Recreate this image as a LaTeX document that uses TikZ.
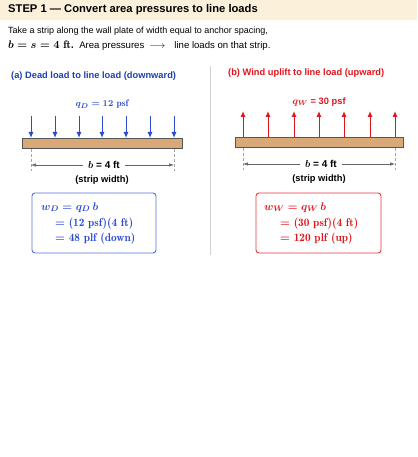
\documentclass[tikz,border=0pt]{standalone}
\usepackage{fontspec}
\setmainfont{Liberation Sans}
\newcommand\lmrf{\fontfamily{lmr}\selectfont}
\usetikzlibrary{arrows.meta}
\definecolor{band}{HTML}{FBF0D9}
\definecolor{dblue}{HTML}{1F3FB0}
\definecolor{ablue}{HTML}{2A4BD0}
\definecolor{dred}{HTML}{E0151B}
\definecolor{wood}{HTML}{D9A877}
\definecolor{woodline}{HTML}{555555}
\tikzset{
  beam/.style={fill=wood,draw=woodline,line width=0.8pt},
  dnarrow/.style={draw=ablue,line width=1pt,-{Latex[length=6pt,width=5pt]}},
  uparrow/.style={draw=dred,line width=1pt,-{Latex[length=6pt,width=5pt]}},
  dimline/.style={draw=gray!80!black,line width=0.6pt,{Latex[length=5pt,width=3.5pt]}-{Latex[length=5pt,width=3.5pt]}},
  extline/.style={draw=gray!70,line width=0.7pt,dash pattern=on 3pt off 2pt},
  txt/.style={inner sep=0pt,font=\fontsize{9}{11}\selectfont},
  ptitle/.style={inner sep=0pt,anchor=west,font=\fontsize{9.3}{11}\selectfont\bfseries},
  lbl/.style={inner sep=0pt,font=\fontsize{9.3}{11}\selectfont\bfseries\boldmath},
  qlbl/.style={inner sep=0pt,font=\lmrf\fontsize{9.5}{11}\selectfont\bfseries\boldmath},
  resbox/.style={rounded corners=3pt,line width=0.9pt,fill=white},
  boxtxt/.style={inner sep=0pt,anchor=base west,font=\lmrf\fontsize{11.3}{13}\selectfont\bfseries\boldmath},
}
\begin{document}
\begin{tikzpicture}[x=1pt,y=-1pt]
\path[use as bounding box] (0,0) rectangle (417,457);
\fill[band] (0,0) rectangle (417,20);
\node[txt,anchor=west,font=\fontsize{11.2}{13}\selectfont\bfseries] (title) at (8,10) {STEP 1 --- Convert area pressures to line loads};
\node[txt,anchor=base west] (l1) at (8,34) {Take a strip along the wall plate of width equal to anchor spacing,};
\node[txt,anchor=base west,font=\fontsize{9.6}{11}\selectfont] (l2) at (8,49) {{\lmrf\bfseries\boldmath\fontsize{11}{12}\selectfont $b = s = 4$ ft.}\ \ Area pressures\hspace{3pt}\makebox[20pt]{$\longrightarrow$}\hspace{7pt}line loads on that strip.};
% divider
\draw[gray!35,line width=0.8pt] (210,66) coordinate (dv1) -- (210,255) coordinate (dv2);
% ---------- Left panel ----------
\node[ptitle,text=dblue] (ta) at (11,76) {(a) Dead load to line load (downward)};
\node[qlbl,text=ablue] (qd) at (102,104) {$q_D = 12$ psf};
\node[beam,minimum width=160pt,minimum height=10pt,inner sep=0pt] (bA) at (102,143) {};
\foreach \i/\x in {1/31,2/55,3/79,4/102,5/126,6/150,7/174}{
  \coordinate (ad\i) at (\x,116);
  \coordinate (bd\i) at (\x,138);
  \draw[dnarrow] (ad\i) -- (bd\i);
}
\coordinate (eA1) at (31,149); \coordinate (eA1b) at (31,171);
\coordinate (eA2) at (174,149); \coordinate (eA2b) at (174,171);
\draw[extline] (eA1) -- (eA1b);
\draw[extline] (eA2) -- (eA2b);
\coordinate (dA1) at (31,165); \coordinate (dA2) at (174,165);
\draw[dimline] (dA1) -- (dA2);
\node[lbl,fill=white,inner xsep=5pt,inner ysep=1pt,font=\fontsize{10}{11}\selectfont\bfseries\boldmath] (bA4) at (104,165) {$b$ = 4 ft};
\node[lbl] (swA) at (102,180) {(strip width)};
\draw[resbox,draw=ablue!80] (32,193) rectangle (156,253);
\node[boxtxt,text=ablue] (wA1) at (41,210) {$w_D = q_D\,b$};
\node[boxtxt,text=ablue] (wA2) at (55,226) {$=$ (12 psf)(4 ft)};
\node[boxtxt,text=ablue] (wA3) at (55,241) {$=$ 48 plf (down)};
% ---------- Right panel ----------
\node[ptitle,text=dred] (tb) at (228,73) {(b) Wind uplift to line load (upward)};
\node[lbl,text=dred] (qw) at (319,102) {{\fontsize{10}{11}\selectfont$q_W$} = 30 psf};
\node[beam,minimum width=168pt,minimum height=10pt,inner sep=0pt] (bB) at (319,142) {};
\foreach \i/\x in {1/243,2/268,3/294,4/319,5/344,6/370,7/395}{
  \coordinate (au\i) at (\x,137);
  \coordinate (bu\i) at (\x,111);
  \draw[uparrow] (au\i) -- (bu\i);
}
\coordinate (eB1) at (243,148); \coordinate (eB1b) at (243,170);
\coordinate (eB2) at (395,148); \coordinate (eB2b) at (395,170);
\draw[extline] (eB1) -- (eB1b);
\draw[extline] (eB2) -- (eB2b);
\coordinate (dB1) at (243,164); \coordinate (dB2) at (395,164);
\draw[dimline] (dB1) -- (dB2);
\node[lbl,fill=white,inner xsep=5pt,inner ysep=1pt,font=\fontsize{10}{11}\selectfont\bfseries\boldmath] (bB4) at (321,164) {$b$ = 4 ft};
\node[lbl] (swB) at (319,179) {(strip width)};
\draw[resbox,draw=dred!85] (256,193) rectangle (381,253);
\node[boxtxt,text=dred] (wB1) at (264,210) {$w_W = q_W\,b$};
\node[boxtxt,text=dred] (wB2) at (280,226) {$=$ (30 psf)(4 ft)};
\node[boxtxt,text=dred] (wB3) at (280,241) {$=$ 120 plf (up)};
\end{tikzpicture}
\end{document}
